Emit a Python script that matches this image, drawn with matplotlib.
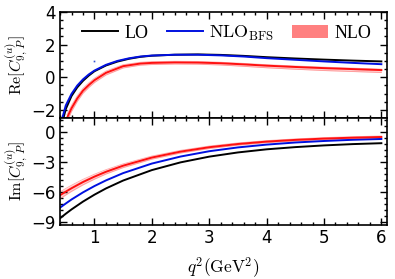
import numpy as np
import matplotlib
matplotlib.use("Agg")
import matplotlib.pyplot as plt
from matplotlib.patches import Patch
from matplotlib.lines import Line2D
from matplotlib.ticker import MultipleLocator

plt.rcParams['mathtext.fontset'] = 'cm'
plt.rcParams['font.family'] = ['DejaVu Sans']

# ---------------- data: Re part ----------------
re_lo_x = [0.46, 0.5, 0.6, 0.7, 0.8, 0.9, 1.0, 1.2, 1.4, 1.6, 1.8, 2.0, 2.4, 2.8, 3.2, 3.6, 4.0, 4.5, 5.0, 5.5, 6.0]
re_lo_y = [-2.5, -1.95, -1.15, -0.62, -0.22, 0.1, 0.37, 0.72, 0.96, 1.13, 1.25, 1.32, 1.38, 1.40, 1.37, 1.31, 1.23, 1.15, 1.08, 1.02, 0.97]

re_bfs_x = [0.44, 0.5, 0.6, 0.7, 0.8, 0.9, 1.0, 1.2, 1.4, 1.6, 1.8, 2.0, 2.4, 2.8, 3.2, 3.6, 4.0, 4.5, 5.0, 5.5, 6.0]
re_bfs_y = [-2.5, -1.73, -1.02, -0.51, -0.13, 0.17, 0.41, 0.76, 1.0, 1.16, 1.27, 1.33, 1.38, 1.38, 1.34, 1.27, 1.17, 1.07, 0.97, 0.88, 0.80]

re_nlo_x = [0.52, 0.6, 0.7, 0.8, 0.9, 1.0, 1.2, 1.5, 1.8, 2.0, 2.4, 2.8, 3.2, 3.6, 4.0, 4.5, 5.0, 5.5, 6.0]
re_nlo_y = [-2.5, -1.9, -1.3, -0.82, -0.48, -0.18, 0.27, 0.68, 0.84, 0.88, 0.91, 0.90, 0.86, 0.79, 0.71, 0.63, 0.56, 0.50, 0.44]
re_nlo_lo = [-2.75, -2.1, -1.48, -0.98, -0.63, -0.32, 0.14, 0.57, 0.74, 0.78, 0.81, 0.80, 0.75, 0.67, 0.58, 0.49, 0.41, 0.35, 0.29]
re_nlo_hi = [-2.3, -1.72, -1.14, -0.68, -0.35, -0.06, 0.38, 0.77, 0.92, 0.96, 0.98, 0.97, 0.92, 0.85, 0.77, 0.69, 0.62, 0.56, 0.50]

stray_x = [1.0]
stray_y = [1.0]

# ---------------- data: Im part ----------------
im_x = [0.41, 0.5, 0.6, 0.8, 1.0, 1.2, 1.5, 2.0, 2.5, 3.0, 3.5, 4.0, 4.5, 5.0, 5.5, 6.0]
im_lo_y = [-8.6, -8.19, -7.76, -6.98, -6.29, -5.67, -4.88, -3.84, -3.07, -2.50, -2.08, -1.77, -1.55, -1.38, -1.25, -1.16]
im_bfs_y = [-7.54, -7.17, -6.77, -6.06, -5.43, -4.87, -4.14, -3.19, -2.49, -1.96, -1.58, -1.30, -1.09, -0.94, -0.82, -0.74]
im_nlo_y = [-6.31, -5.99, -5.65, -5.03, -4.49, -4.01, -3.40, -2.59, -2.00, -1.56, -1.24, -1.00, -0.83, -0.70, -0.61, -0.54]
im_nlo_lo = [-6.66, -6.32, -5.96, -5.31, -4.74, -4.23, -3.59, -2.75, -2.14, -1.69, -1.36, -1.11, -0.94, -0.81, -0.72, -0.65]
im_nlo_hi = [-5.98, -5.67, -5.35, -4.76, -4.25, -3.80, -3.22, -2.44, -1.87, -1.44, -1.13, -0.90, -0.73, -0.60, -0.51, -0.44]

xlim = (0.4, 6.1)
labels = ["LO", r"$\mathrm{NLO}_{\mathrm{BFS}}$", "NLO"]

fig = plt.figure(figsize=(3.95, 2.79), dpi=100)
ax1 = fig.add_axes([0.152, 0.577, 0.828, 0.38])
ax2 = fig.add_axes([0.152, 0.194, 0.828, 0.383])

band_col = (1.0, 0.45, 0.45)

def style(ax):
    ax.tick_params(which='both', direction='in', top=True, right=True,
                   labelsize=12, width=1.0, pad=3)
    ax.tick_params(which='major', length=5)
    ax.tick_params(which='minor', length=2.5)
    for s in ax.spines.values():
        s.set_linewidth(1.2)
    ax.set_xlim(*xlim)
    ax.xaxis.set_major_locator(MultipleLocator(1))
    ax.xaxis.set_minor_locator(MultipleLocator(0.2))

# top panel
ax1.fill_between(re_nlo_x, re_nlo_lo, re_nlo_hi, color=band_col, alpha=0.35, lw=0)
ax1.plot(re_nlo_x, re_nlo_lo, color=band_col, lw=0.6, alpha=0.6)
ax1.plot(re_nlo_x, re_nlo_hi, color=band_col, lw=0.6, alpha=0.6)
ax1.plot(re_lo_x, re_lo_y, color='black', lw=1.4)
ax1.plot(re_bfs_x, re_bfs_y, color='#0010e0', lw=1.4)
ax1.plot(re_nlo_x, re_nlo_y, color='#ff1010', lw=1.4)
ax1.plot(stray_x, stray_y, 's', color='#3050d0', ms=1.2, mew=0)
style(ax1)
ax1.set_ylim(-2.5, 4)
ax1.yaxis.set_major_locator(MultipleLocator(2))
ax1.yaxis.set_minor_locator(MultipleLocator(0.5))
ax1.tick_params(labelbottom=False)

handles = [Line2D([], [], color='black', lw=1.4),
           Line2D([], [], color='#0010e0', lw=1.4),
           Patch(facecolor='#ff8080', edgecolor='none')]
leg = ax1.legend(handles, labels, loc='center', bbox_to_anchor=(0.51, 0.80),
                 ncol=3, frameon=False, handlelength=2.0,
                 handletextpad=0.35, columnspacing=1.0, borderaxespad=0,
                 prop={'family': 'Liberation Serif', 'size': 13})

# bottom panel
ax2.fill_between(im_x, im_nlo_lo, im_nlo_hi, color=band_col, alpha=0.35, lw=0)
ax2.plot(im_x, im_nlo_lo, color=band_col, lw=0.6, alpha=0.6)
ax2.plot(im_x, im_nlo_hi, color=band_col, lw=0.6, alpha=0.6)
ax2.plot(im_x, im_lo_y, color='black', lw=1.4)
ax2.plot(im_x, im_bfs_y, color='#0010e0', lw=1.4)
ax2.plot(im_x, im_nlo_y, color='#ff1010', lw=1.4)
style(ax2)
ax2.set_ylim(-9.3, 1.35)
ax2.yaxis.set_major_locator(MultipleLocator(3))
ax2.yaxis.set_minor_locator(MultipleLocator(0.6))

ax1.set_ylabel(r"$\mathrm{Re}[C_{9,\,P}^{(u)}]$", fontsize=11.5)
ax2.set_ylabel(r"$\mathrm{Im}[C_{9,\,P}^{(u)}]$", fontsize=11.5)
ax1.yaxis.set_label_coords(-0.093, 0.5)
ax2.yaxis.set_label_coords(-0.093, 0.5)
ax2.set_xlabel(r"$q^2(\mathrm{GeV}^2)$", fontsize=12.5, labelpad=6)

fig.savefig("out.png", dpi=100)
